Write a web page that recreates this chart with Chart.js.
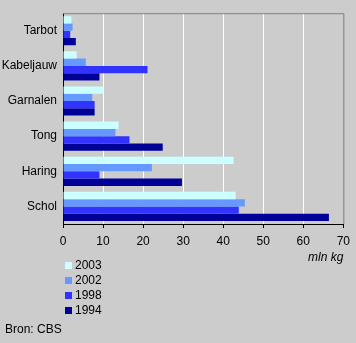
<!DOCTYPE html>
<html>
<head>
<meta charset="utf-8">
<script src="https://cdn.jsdelivr.net/npm/chart.js@4/dist/chart.umd.min.js"></script>
<style>
  body { margin: 0; background: #cccccc; }
  #wrap { position: relative; width: 356px; height: 343px; background: #cccccc; font-family: "Liberation Sans", Arial, sans-serif; }
  #legend { position: absolute; left: 65px; top: 258px; font-size: 12px; color: #000; }
  #legend div { height: 15px; line-height: 15px; }
  #legend span.box { display: inline-block; width: 7px; height: 7px; margin-right: 3px; vertical-align: 0px; }
  #source { position: absolute; left: 5px; top: 322px; font-size: 12px; color: #000; }
</style>
</head>
<body>
<div id="wrap">
  <canvas id="myChart" width="356" height="343"></canvas>
  <div id="legend"></div>
  <div id="source">Bron: CBS</div>
</div>
<script>
const categories = ['Tarbot', 'Kabeljauw', 'Garnalen', 'Tong', 'Haring', 'Schol'];
const years = ['2003', '2002', '1998', '1994'];
const values2003 = [2.1, 3.4, 10.1, 13.9, 42.6, 43.1];
const values2002 = [2.4, 5.7, 7.3, 13.1, 22.2, 45.4];
const values1998 = [1.8, 21.1, 7.9, 16.6, 9.1, 43.9];
const values1994 = [3.2, 9.1, 7.9, 24.9, 29.7, 66.4];
const xTicks = [0, 10, 20, 30, 40, 50, 60, 70];

document.addEventListener('DOMContentLoaded', function() {
  const ctx = document.getElementById('myChart');
  const colors = ['#ccffff', '#6699ff', '#3333ff', '#000099'];
  const series = [values2003, values2002, values1998, values1994];

  // gray frame on the top and right of the plot area
  const frame = {
    id: 'frame',
    afterDraw(chart) {
      const a = chart.chartArea;
      const c = chart.ctx;
      c.save();
      c.strokeStyle = '#808080';
      c.lineWidth = 1;
      c.beginPath();
      c.moveTo(a.left, a.top + 0.5);
      c.lineTo(a.right + 0.5, a.top + 0.5);
      c.lineTo(a.right + 0.5, a.bottom);
      c.stroke();
      c.restore();
    }
  };

  const chart = new Chart(ctx, {
    type: 'bar',
    data: {
      labels: categories,
      datasets: years.map((y, i) => ({
        label: y,
        data: series[i],
        backgroundColor: colors[i],
        borderWidth: 0,
        categoryPercentage: 0.83,
        barPercentage: 1
      }))
    },
    options: {
      indexAxis: 'y',
      responsive: false,
      animation: false,
      layout: { padding: { left: 0, right: 12, top: 10, bottom: 78 } },
      plugins: {
        legend: { display: false },
        tooltip: { enabled: false }
      },
      scales: {
        x: {
          min: 0,
          max: 70,
          afterBuildTicks: function(scale) {
            scale.ticks = xTicks.map(v => ({ value: v }));
          },
          afterFit: function(scale) { scale.height = 41; },
          grid: {
            color: c => (c.tick && (c.tick.value === 0 || c.tick.value === 70)) ? 'rgba(0,0,0,0)' : '#ffffff',
            tickColor: '#000000',
            tickLength: 4,
            lineWidth: 1
          },
          border: { color: '#000000' },
          ticks: {
            color: '#000000',
            font: { family: 'Liberation Sans', size: 12 },
            padding: 6,
            maxRotation: 0
          },
          title: {
            display: true,
            text: 'mln kg',
            align: 'end',
            color: '#000000',
            font: { family: 'Liberation Sans', size: 12, style: 'italic' },
            padding: { top: 0, bottom: 0 }
          }
        },
        y: {
          afterFit: function(scale) { scale.width = 63; },
          grid: { display: false, drawTicks: false },
          border: { color: '#000000' },
          ticks: {
            color: '#000000',
            font: { family: 'Liberation Sans', size: 12 },
            padding: 6
          }
        }
      }
    },
    plugins: [frame]
  });

  // legend listed vertically below the chart
  const legend = document.getElementById('legend');
  chart.data.datasets.forEach(ds => {
    const row = document.createElement('div');
    const box = document.createElement('span');
    box.className = 'box';
    box.style.background = ds.backgroundColor;
    row.appendChild(box);
    row.appendChild(document.createTextNode(ds.label));
    legend.appendChild(row);
  });
});
</script>
</body>
</html>
